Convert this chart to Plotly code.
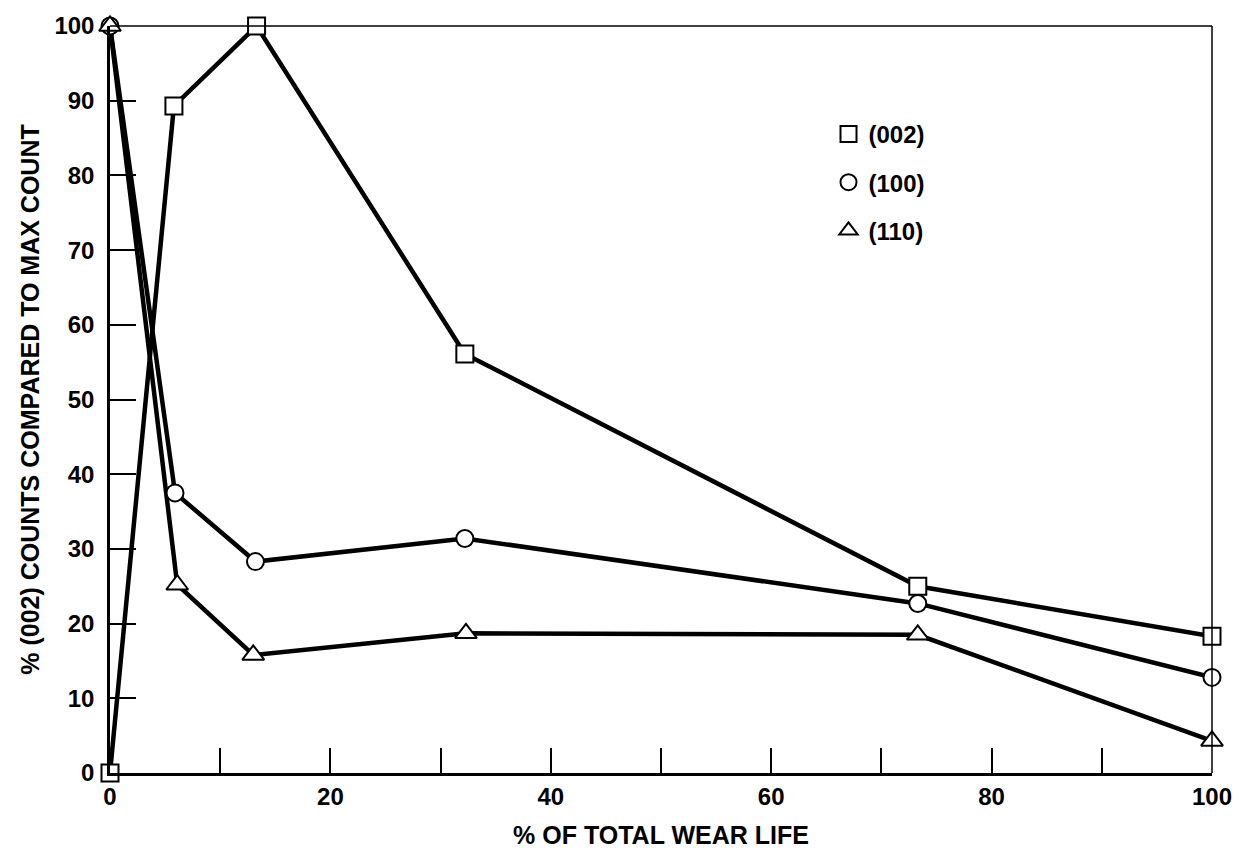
import plotly.graph_objects as go

# Data
x_002 = [0, 5.8, 13.3, 32.2, 73.3, 100]
y_002 = [0, 89.3, 100, 56.1, 25.0, 18.3]

x_100 = [0, 5.9, 13.2, 32.2, 73.3, 100]
y_100 = [100, 37.5, 28.3, 31.4, 22.7, 12.8]

x_110 = [0, 6.1, 13.0, 32.3, 73.3, 100]
y_110 = [100, 25.2, 15.8, 18.7, 18.5, 4.3]

series_names = ["(002)", "(100)", "(110)"]
x_ticks = [0, 10, 20, 30, 40, 50, 60, 70, 80, 90, 100]
x_ticktext = ["0", "", "20", "", "40", "", "60", "", "80", "", "100"]
y_ticks = [0, 10, 20, 30, 40, 50, 60, 70, 80, 90, 100]

FONT = "Liberation Sans, Arial, sans-serif"

fig = go.Figure()

data = [(x_002, y_002), (x_100, y_100), (x_110, y_110)]
symbols = ["square", "circle", "triangle-up"]
sizes = [17, 17, 19]

for xs, ys in data:
    fig.add_trace(go.Scatter(
        x=xs, y=ys, mode="lines",
        line=dict(color="black", width=4.5),
        showlegend=False, cliponaxis=False, hoverinfo="skip"))

for (xs, ys), sym, sz in zip(data, symbols, sizes):
    fig.add_trace(go.Scatter(
        x=xs, y=ys, mode="markers",
        marker=dict(symbol=sym, size=sz, color="white",
                    line=dict(color="black", width=2)),
        showlegend=False, cliponaxis=False))

# legend proxies
for name, sym in zip(series_names, symbols):
    fig.add_trace(go.Scatter(
        x=[None], y=[None], mode="markers", name=name, legendgroup=name,
        marker=dict(symbol=sym, size=16, color="white",
                    line=dict(color="black", width=2))))

fig.update_layout(
    width=1244, height=857,
    margin=dict(l=110, r=27, t=25, b=84),
    paper_bgcolor="white", plot_bgcolor="white",
    font=dict(family=FONT, color="black", size=24),
    legend=dict(x=0.652, y=0.885, xanchor="left", yanchor="top",
                font=dict(size=24, family=FONT, color="black", weight="bold"),
                bgcolor="rgba(0,0,0,0)", tracegroupgap=14),
    xaxis=dict(range=[0, 100], tickvals=x_ticks, ticktext=x_ticktext,
               ticks="inside", ticklen=25, tickwidth=1.5, tickcolor="black",
               showline=True, linewidth=2.5, linecolor="black",
               showgrid=False, zeroline=False,
               tickfont=dict(size=24, family=FONT, weight="bold"),
               title=dict(text="% OF TOTAL WEAR LIFE", standoff=18,
                          font=dict(size=25, family=FONT, weight="bold"))),
    yaxis=dict(range=[0, 100], tickvals=y_ticks,
               ticks="inside", ticklen=26, tickwidth=1.5, tickcolor="black",
               showline=True, linewidth=2.5, linecolor="black",
               showgrid=False, zeroline=False, ticklabelstandoff=8,
               tickfont=dict(size=24, family=FONT, weight="bold"),
               title=dict(text="% (002) COUNTS COMPARED TO MAX COUNT", standoff=8,
                          font=dict(size=25, family=FONT, weight="bold"))),
)

# top and right frame lines (thinner)
fig.add_shape(type="line", xref="paper", yref="paper", x0=0, x1=1, y0=1, y1=1,
              line=dict(color="black", width=1.5))
fig.add_shape(type="line", xref="paper", yref="paper", x0=1, x1=1, y0=0, y1=1,
              line=dict(color="black", width=1.5))

fig.write_html("out.html")
